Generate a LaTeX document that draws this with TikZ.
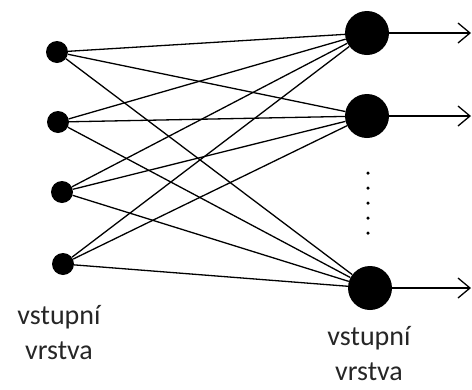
\documentclass[tikz,border=0pt]{standalone}
\usepackage{fontspec}
\setmainfont{Carlito}
\usetikzlibrary{arrows.meta}
\begin{document}
\begin{tikzpicture}[x=1pt,y=-1pt,
  inp/.style={circle,fill=black,inner sep=0pt,minimum size=22pt},
  outp/.style={circle,fill=black,inner sep=0pt,minimum size=44pt},
  conn/.style={line width=1.3pt},
  outarrow/.style={line width=1.5pt,-{Straight Barb[length=12pt,width=20pt,line width=1.3pt]}},
  dotmark/.style={circle,fill=black,inner sep=0pt,minimum size=3.5pt},
  lbl/.style={align=center,inner sep=1pt,font=\fontsize{28}{35}\selectfont,text=black!85}]
\useasboundingbox (0,0) rectangle (472,389);
\node[inp] (i1) at (57,52) {};
\node[inp] (i2) at (58,122) {};
\node[inp] (i3) at (62,192) {};
\node[inp] (i4) at (63,264) {};
\node[outp] (o1) at (367,33) {};
\node[outp] (o2) at (367,116) {};
\node[outp] (o3) at (370,288) {};
\foreach \i in {i1,i2,i3,i4}{
  \foreach \o in {o1,o2,o3}{
    \draw[conn] (\i) -- (\o);
  }
}
\coordinate (e1) at (471,33);
\coordinate (e2) at (471,116);
\coordinate (e3) at (471,288);
\draw[outarrow] (o1) -- (e1);
\draw[outarrow] (o2) -- (e2);
\draw[outarrow] (o3) -- (e3);
\foreach \k/\y in {1/173,2/188,3/203,4/218,5/233}{
  \node[dotmark] (d\k) at (368,\y) {};
}
\node[lbl] (l1) at (59,333) {vstupní\\vrstva};
\node[lbl] (l2) at (369,354) {vstupní\\vrstva};
\end{tikzpicture}
\end{document}
